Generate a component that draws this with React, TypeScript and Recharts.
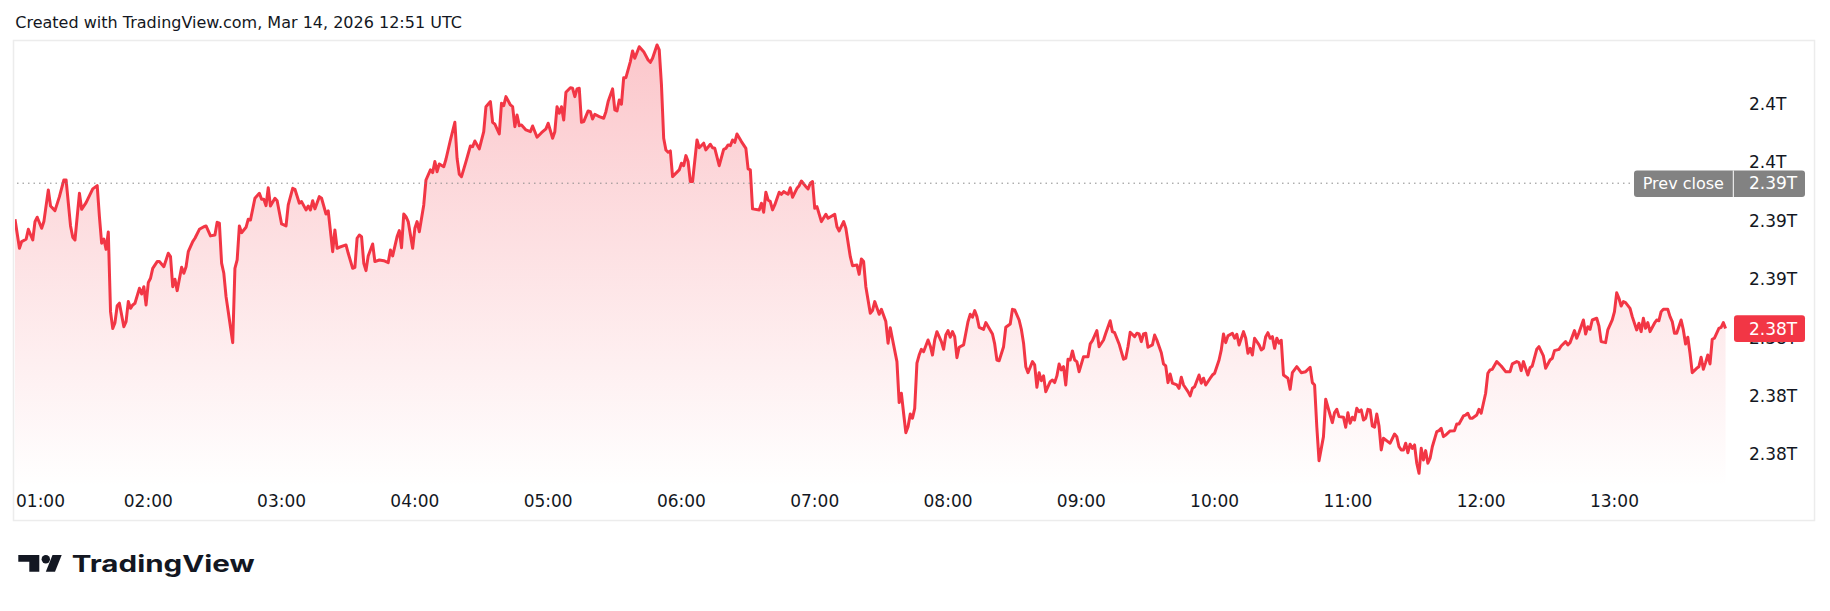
import { Area, ComposedChart, ReferenceLine, XAxis, YAxis } from "recharts";

// minutes after 01:00 for each 1-min point that was traced
const MINUTES = [
  0, 2, 3, 5, 6, 8, 9, 10, 12, 13,
  15, 16, 18, 20, 22, 23, 25, 26, 27, 29,
  30, 32, 35, 37, 38, 39, 40, 41, 42, 43,
  44, 45, 46, 47, 49, 50, 51, 52, 53, 54,
  56, 57, 58, 59, 60, 61, 62, 64, 65, 67,
  69, 70, 71, 72, 73, 75, 76, 77, 78, 80,
  81, 83, 85, 86, 88, 90, 91, 92, 93, 94,
  95, 96, 98, 99, 100, 101, 102, 104, 105, 106,
  108, 110, 111, 112, 113, 114, 115, 117, 118, 120,
  122, 123, 125, 126, 128, 129, 131, 132, 133, 134,
  135, 137, 138, 140, 141, 143, 144, 145, 146, 149,
  150, 152, 153, 154, 155, 156, 157, 158, 159, 161,
  162, 164, 166, 168, 169, 170, 172, 173, 174, 175,
  176, 177, 179, 180, 181, 182, 184, 185, 187, 188,
  189, 190, 191, 193, 194, 196, 198, 199, 200, 201,
  203, 205, 206, 207, 209, 211, 212, 214, 215, 216,
  218, 219, 220, 221, 223, 224, 225, 226, 227, 228,
  230, 232, 233, 235, 237, 239, 240, 242, 243, 244,
  245, 246, 247, 248, 250, 251, 252, 253, 254, 255,
  256, 258, 259, 260, 261, 263, 265, 266, 267, 269,
  270, 271, 272, 273, 274, 275, 277, 278, 279, 281,
  283, 285, 286, 287, 289, 290, 291, 292, 293, 294,
  295, 296, 299, 300, 301, 302, 303, 304, 305, 307,
  308, 310, 311, 313, 314, 315, 317, 319, 320, 321,
  322, 323, 324, 325, 327, 329, 330, 331, 332, 335,
  336, 337, 338, 339, 340, 341, 342, 344, 345, 346,
  348, 349, 350, 352, 353, 354, 356, 357, 358, 359,
  360, 361, 363, 365, 366, 369, 370, 371, 373, 374,
  376, 377, 379, 380, 381, 382, 383, 385, 386, 387,
  389, 390, 392, 393, 394, 395, 397, 398, 399, 400,
  401, 402, 403, 404, 405, 406, 407, 408, 409, 411,
  412, 413, 414, 415, 417, 418, 419, 420, 421, 422,
  423, 424, 425, 427, 429, 430, 431, 432, 433, 434,
  436, 437, 440, 441, 442, 443, 445, 446, 448, 449,
  450, 452, 453, 454, 455, 456, 458, 459, 460, 461,
  462, 463, 464, 466, 467, 468, 469, 470, 471, 472,
  473, 474, 475, 476, 477, 478, 479, 481, 483, 484,
  485, 487, 488, 490, 491, 493, 494, 495, 497, 499,
  500, 501, 502, 504, 505, 506, 507, 508, 509, 510,
  512, 513, 514, 516, 517, 518, 519, 520, 521, 523,
  524, 525, 526, 528, 529, 530, 531, 533, 534, 535,
  536, 538, 539, 540, 542, 543, 544, 545, 546, 548,
  549, 550, 551, 553, 554, 555, 556, 557, 558, 560,
  561, 562, 563, 564, 565, 566, 567, 568, 569, 570,
  571, 573, 574, 575, 577, 579, 581, 583, 584, 585,
  586, 587, 589, 590, 592, 593, 594, 595, 596, 598,
  599, 600, 601, 602, 603, 604, 605, 606, 607, 608,
  609, 610, 611, 612, 613, 614, 615, 616, 618, 619,
  621, 622, 623, 624, 625, 626, 627, 628, 629, 630,
  631, 632, 633, 634, 635, 636, 637, 638, 640, 641,
  642, 643, 644, 646, 648, 649, 650, 652, 653, 654,
  655, 656, 658, 659, 660, 662, 663, 664, 665, 667,
  669, 671, 673, 674, 676, 677, 678, 679, 681, 682,
  683, 685, 686, 688, 689, 691, 692, 693, 695, 696,
  698, 699, 700, 702, 703, 704, 706, 707, 708, 709,
  710, 712, 713, 714, 716, 717, 719, 720, 721, 722,
  723, 724, 725, 727, 728, 730, 731, 732, 733, 734,
  735, 736, 738, 739, 740, 741, 742, 744, 745, 746,
  747, 748, 750, 751, 752, 753, 754, 755, 757, 758,
  759, 760, 761, 762, 763, 764, 765, 767, 768, 769,
  770,
];

// market cap, billions USD
const CAP_BN = [
  2391.69, 2389.7, 2390.16, 2390.32, 2391.0, 2390.27, 2391.53, 2391.83, 2391.07, 2391.53,
  2393.7, 2392.6, 2392.28, 2393.24, 2394.38, 2394.38, 2391.23, 2390.46, 2390.27, 2393.47,
  2392.37, 2392.83, 2393.77, 2393.99, 2391.87, 2390.05, 2390.34, 2389.63, 2390.82, 2385.36,
  2384.2, 2384.61, 2385.77, 2385.94, 2384.33, 2384.68, 2386.05, 2385.59, 2385.82, 2385.94,
  2386.96, 2386.57, 2387.07, 2385.82, 2387.35, 2387.65, 2388.33, 2388.79, 2388.79, 2388.44,
  2389.36, 2389.13, 2387.07, 2387.58, 2386.8, 2388.4, 2387.99, 2388.44, 2389.47, 2390.16,
  2390.39, 2391.0, 2391.18, 2391.23, 2390.55, 2390.61, 2391.48, 2391.42, 2388.68, 2387.99,
  2386.39, 2385.36, 2383.24, 2388.33, 2388.9, 2391.23, 2390.77, 2391.14, 2391.69, 2391.64,
  2393.13, 2393.47, 2393.06, 2393.06, 2392.62, 2393.85, 2392.6, 2393.13, 2392.96, 2391.37,
  2391.23, 2392.67, 2393.81, 2393.74, 2392.79, 2392.9, 2392.33, 2392.6, 2392.33, 2392.96,
  2392.4, 2393.24, 2393.13, 2392.05, 2392.26, 2389.47, 2390.96, 2389.7, 2389.77, 2389.93,
  2389.36, 2388.33, 2388.4, 2390.39, 2390.61, 2390.5, 2388.68, 2388.17, 2389.18, 2390.0,
  2388.79, 2388.9, 2388.85, 2388.72, 2389.59, 2389.18, 2390.5, 2390.91, 2389.74, 2392.05,
  2391.87, 2391.53, 2389.7, 2391.07, 2391.53, 2390.84, 2392.67, 2394.38, 2395.07, 2394.88,
  2395.64, 2394.95, 2395.48, 2395.29, 2395.8, 2397.12, 2398.33, 2395.87, 2394.77, 2394.61,
  2395.64, 2396.71, 2396.66, 2397.05, 2396.51, 2397.69, 2399.4, 2399.75, 2398.33, 2398.2,
  2397.53, 2399.64, 2399.47, 2400.09, 2399.52, 2399.4, 2398.03, 2398.83, 2398.1, 2398.15,
  2397.81, 2397.69, 2398.08, 2397.31, 2397.62, 2397.88, 2398.27, 2397.24, 2397.69, 2399.4,
  2398.95, 2399.4, 2398.49, 2400.39, 2400.7, 2400.66, 2400.09, 2400.62, 2400.66, 2398.33,
  2398.38, 2399.11, 2399.06, 2398.56, 2398.88, 2398.72, 2398.61, 2399.06, 2399.75, 2400.62,
  2399.18, 2399.11, 2399.86, 2399.57, 2401.39, 2401.39, 2402.49, 2403.22, 2402.72, 2403.51,
  2403.17, 2402.6, 2402.44, 2402.72, 2403.63, 2403.29, 2400.89, 2397.24, 2396.44, 2396.28,
  2396.37, 2394.61, 2395.07, 2395.53, 2395.36, 2396.05, 2395.64, 2394.27, 2394.27, 2397.12,
  2396.59, 2396.9, 2396.44, 2396.83, 2396.59, 2396.55, 2395.36, 2396.48, 2396.55, 2396.78,
  2396.73, 2397.12, 2396.96, 2397.53, 2397.01, 2396.55, 2395.14, 2395.07, 2392.4, 2392.33,
  2392.79, 2392.17, 2393.54, 2393.01, 2392.9, 2392.33, 2392.67, 2393.54, 2393.4, 2393.58,
  2393.4, 2393.85, 2393.2, 2393.81, 2393.99, 2394.31, 2393.92, 2393.77, 2394.16, 2394.27,
  2392.44, 2392.55, 2391.53, 2392.03, 2391.76, 2392.03, 2391.18, 2390.89, 2391.53, 2391.07,
  2389.13, 2388.51, 2388.56, 2387.92, 2388.97, 2388.79, 2387.07, 2385.25, 2385.43, 2386.05,
  2385.18, 2385.52, 2384.68, 2383.2, 2384.26, 2383.47, 2381.94, 2379.13, 2379.77, 2378.4,
  2377.07, 2377.48, 2378.35, 2378.06, 2378.74, 2381.83, 2382.39, 2382.78, 2382.62, 2383.42,
  2383.01, 2382.39, 2383.42, 2383.99, 2383.31, 2382.78, 2383.76, 2384.06, 2383.61, 2383.99,
  2383.65, 2382.21, 2382.92, 2383.08, 2384.68, 2385.18, 2384.98, 2385.43, 2385.02, 2384.29,
  2384.15, 2384.61, 2383.83, 2383.15, 2382.05, 2382.0, 2382.96, 2384.29, 2384.52, 2385.52,
  2385.48, 2384.79, 2384.15, 2383.2, 2381.59, 2381.18, 2381.94, 2381.71, 2380.18, 2381.18,
  2380.63, 2380.96, 2379.88, 2380.57, 2380.68, 2380.5, 2380.96, 2381.78, 2381.37, 2381.59,
  2380.34, 2382.1, 2382.05, 2382.67, 2382.05, 2381.94, 2381.25, 2382.28, 2382.28, 2383.15,
  2383.37, 2384.06, 2382.96, 2383.42, 2383.88, 2384.74, 2383.99, 2383.92, 2383.15, 2382.1,
  2382.17, 2382.96, 2383.95, 2383.65, 2383.88, 2383.83, 2383.31, 2383.83, 2383.88, 2382.92,
  2383.08, 2383.76, 2383.42, 2382.55, 2381.78, 2381.64, 2380.5, 2381.09, 2380.46, 2380.34,
  2380.11, 2380.87, 2380.34, 2379.88, 2379.59, 2380.11, 2380.22, 2381.02, 2380.46, 2380.8,
  2380.34, 2380.8, 2381.02, 2381.14, 2382.05, 2382.74, 2383.83, 2383.24, 2383.7, 2383.88,
  2383.54, 2383.81, 2383.08, 2383.99, 2383.54, 2382.51, 2382.85, 2382.39, 2383.54, 2383.08,
  2382.74, 2382.85, 2383.65, 2383.92, 2383.54, 2383.65, 2382.85, 2383.54, 2383.2, 2383.4,
  2381.02, 2380.8, 2380.04, 2381.18, 2381.59, 2381.18, 2381.25, 2381.55, 2380.5, 2380.34,
  2377.48, 2375.15, 2376.8, 2379.36, 2378.28, 2377.76, 2378.44, 2378.67, 2378.17, 2378.13,
  2377.44, 2378.44, 2377.72, 2378.13, 2377.94, 2378.74, 2378.51, 2378.63, 2377.94, 2378.06,
  2378.67, 2378.63, 2377.53, 2377.44, 2378.35, 2377.53, 2375.89, 2376.69, 2376.46, 2376.35,
  2376.98, 2376.8, 2376.11, 2375.89, 2375.89, 2376.35, 2375.7, 2376.28, 2376.0, 2376.23,
  2374.98, 2374.29, 2376.0, 2375.2, 2375.84, 2374.98, 2375.32, 2376.11, 2377.14, 2377.21,
  2377.37, 2376.8, 2376.91, 2377.19, 2377.21, 2377.67, 2377.67, 2378.22, 2378.28, 2378.4,
  2378.06, 2378.06, 2378.28, 2378.67, 2378.4, 2379.77, 2381.14, 2381.37, 2381.41, 2381.94,
  2381.64, 2381.25, 2381.25, 2381.78, 2381.94, 2381.87, 2381.32, 2381.94, 2381.02, 2381.52,
  2381.64, 2382.78, 2382.96, 2382.33, 2381.48, 2382.05, 2382.17, 2382.69, 2382.78, 2383.01,
  2383.31, 2383.08, 2383.24, 2384.06, 2383.54, 2383.92, 2384.79, 2383.83, 2384.33, 2384.15,
  2384.79, 2384.91, 2384.38, 2383.31, 2383.24, 2384.11, 2384.79, 2385.36, 2386.66, 2386.28,
  2385.75, 2386.05, 2385.98, 2385.59, 2385.02, 2384.11, 2384.57, 2383.99, 2384.91, 2384.22,
  2384.61, 2383.99, 2384.57, 2384.79, 2384.74, 2385.36, 2385.52, 2385.52, 2385.02, 2384.68,
  2383.88, 2383.88, 2384.79, 2384.11, 2383.15, 2383.61, 2382.51, 2381.18, 2381.48, 2381.59,
  2382.24, 2381.41, 2381.87, 2382.39, 2381.78, 2383.47, 2383.54, 2384.22, 2384.29, 2384.61,
  2384.2,
];

const PREV_CLOSE = 2394.16;

const TIME_TICKS = [0, 60, 120, 180, 240, 300, 360, 420, 480, 540, 600, 660, 720];
const TIME_LABELS = [
  "01:00", "02:00", "03:00", "04:00", "05:00", "06:00", "07:00",
  "08:00", "09:00", "10:00", "11:00", "12:00", "13:00",
];
const Y_TICKS = [2375.6, 2379.6, 2383.6, 2387.6, 2391.6, 2395.6, 2399.6];
const Y_DOMAIN = [2373.35, 2403.9];

const RED = "#F23645";
const INK = "#131722";
const FONT = "'DejaVu Sans', Verdana, sans-serif";

const rows = MINUTES.map((minute, i) => ({ minute, cap: CAP_BN[i] }));
const lastCap = CAP_BN[CAP_BN.length - 1];
// last price goes after the grid ticks so its badge is painted over them
const PRICE_TICKS = [...Y_TICKS, lastCap];

// billions -> "2.39T" style, like the price scale
const fmtT = (v: number) => `${parseFloat((v / 1000).toFixed(2))}T`;

function TimeTick(props: any) {
  const { x, y, payload, index } = props;
  const label = TIME_LABELS[TIME_TICKS.indexOf(payload.value)] ?? "";
  // first label is pushed inside the pane like TradingView does
  return (
    <text
      x={index === 0 ? x + 1 : x}
      y={y + 20}
      textAnchor={index === 0 ? "start" : "middle"}
      fill={INK}
      fontSize={17}
      fontFamily={FONT}
    >
      {label}
    </text>
  );
}

function PriceTick(props: any) {
  const { x, y, payload } = props;
  if (payload.value === lastCap) {
    return (
      <g>
        <rect x={x - 15} y={y - 13.3} width={71} height={26.6} rx={3} fill={RED} />
        <text x={x} y={y} dy={6.2} fill="#ffffff" fontSize={17} fontFamily={FONT}>
          {fmtT(payload.value)}
        </text>
      </g>
    );
  }
  return (
    <text x={x} y={y} dy={6.2} textAnchor="start" fill={INK} fontSize={17} fontFamily={FONT}>
      {fmtT(payload.value)}
    </text>
  );
}

function PrevCloseTag(props: any) {
  const vb = props.viewBox;
  if (!vb) return null;
  const left = vb.x + vb.width - 106;
  const top = vb.y - 12.7;
  return (
    <g>
      <rect x={left} y={top} width={171} height={26.5} rx={3} fill="#828282" />
      <line x1={left + 99.3} x2={left + 99.3} y1={top} y2={top + 26.5} stroke="#ffffff" strokeWidth={1} />
      <text x={left + 8.7} y={vb.y + 6} fill="#ffffff" fontSize={16} fontFamily={FONT}>
        Prev close
      </text>
      <text x={left + 115} y={vb.y + 6.2} fill="#ffffff" fontSize={17} fontFamily={FONT}>
        {fmtT(PREV_CLOSE)}
      </text>
    </g>
  );
}

export default function App() {
  return (
    <div
      style={{
        position: "absolute",
        left: 0,
        top: 0,
        width: 1830,
        height: 611,
        background: "#ffffff",
        overflow: "hidden",
      }}
    >
      <svg width={1830} height={611} style={{ position: "absolute", left: 0, top: 0 }}>
        <text x={15.3} y={28.3} fill={INK} fontSize={16} fontFamily={FONT}>
          Created with TradingView.com, Mar 14, 2026 12:51 UTC
        </text>
        <rect x={13.5} y={40.5} width={1801} height={480} fill="none" stroke="#ececec" strokeWidth={1.5} />
        {/* TradingView logo */}
        <g fill={INK}>
          <path d="M18.3 555 H39.3 V571.7 H29.3 V561.7 H18.3 Z" />
          <circle cx={45.8} cy={559.2} r={4.2} />
          <path d="M52.5 555 H61.7 L55 571.7 H45.8 Z" />
          <text
            x={71.7}
            y={571.7}
            fontSize={23}
            fontWeight={700}
            fontFamily="Inter, 'DejaVu Sans', sans-serif"
            textLength={183}
            lengthAdjust="spacingAndGlyphs"
          >
            TradingView
          </text>
        </g>
      </svg>
      <div style={{ position: "absolute", left: 0, top: 0 }}>
        <ComposedChart
          width={1830}
          height={611}
          data={rows}
          margin={{ top: 41, right: 15, bottom: 90, left: 15 }}
        >
          <defs>
            <linearGradient id="capFill" x1="0" y1="0" x2="0" y2="1">
              <stop offset="0%" stopColor={RED} stopOpacity={0.28} />
              <stop offset="100%" stopColor={RED} stopOpacity={0} />
            </linearGradient>
          </defs>
          <XAxis
            dataKey="minute"
            type="number"
            domain={[0, 776.5]}
            ticks={TIME_TICKS}
            interval={0}
            allowDataOverflow
            height={34}
            tickSize={0}
            tickMargin={0}
            axisLine={false}
            tickLine={false}
            tick={TimeTick}
          />
          <YAxis
            orientation="right"
            type="number"
            domain={Y_DOMAIN}
            ticks={PRICE_TICKS}
            interval={0}
            allowDataOverflow
            width={75}
            tickSize={0}
            tickMargin={9}
            axisLine={false}
            tickLine={false}
            tick={PriceTick}
          />
          <Area
            type="linear"
            dataKey="cap"
            stroke={RED}
            strokeWidth={3}
            strokeLinejoin="round"
            fill="url(#capFill)"
            fillOpacity={1}
            dot={false}
            activeDot={false}
            isAnimationActive={false}
          />
          <ReferenceLine
            y={PREV_CLOSE}
            stroke="#8a8a8a"
            strokeWidth={1}
            strokeDasharray="1.5 4"
            label={PrevCloseTag}
          />
        </ComposedChart>
      </div>
    </div>
  );
}
